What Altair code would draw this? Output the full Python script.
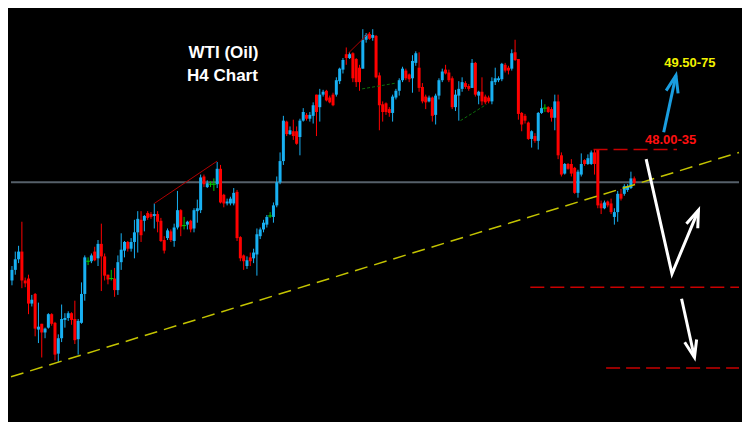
import altair as alt
import pandas as pd
import numpy as np

# ---- WTI H4 candles (price levels) ----
opens = [
    47.17, 47.28, 47.39, 47.47, 47.17, 47.19, 46.93, 47.03, 46.66, 46.72,
    46.63, 46.68, 46.82, 46.73, 46.41, 46.57, 46.76, 46.78, 46.83, 46.77,
    46.56, 46.73, 47.03, 47.37, 47.37, 47.47, 47.40, 47.55, 47.42, 47.23,
    47.19, 47.19, 47.07, 47.36, 47.48, 47.57, 47.50, 47.57, 47.67, 47.80,
    47.79, 47.87, 47.86, 47.84, 47.86, 47.79, 47.59, 47.61, 47.68, 47.58,
    47.72, 47.90, 47.74, 47.75, 47.79, 47.71, 47.89, 47.90, 48.25, 48.14,
    48.17, 48.17, 48.17, 48.33, 48.06, 47.97, 47.97, 47.97, 48.09, 47.62,
    47.43, 47.32, 47.41, 47.40, 47.44, 47.63, 47.70, 47.75, 47.84, 47.83,
    47.95, 48.19, 48.41, 48.82, 48.69, 48.72, 48.72, 48.66, 48.83, 48.89,
    48.85, 48.88, 49.10, 48.97, 49.10, 49.14, 49.07, 49.10, 49.10, 49.24,
    49.36, 49.52, 49.48, 49.53, 49.47, 49.38, 49.37, 49.67, 49.73, 49.69,
    49.71, 49.30, 49.00, 49.01, 48.95, 48.91, 49.07, 49.14, 49.25, 49.35,
    49.31, 49.27, 49.43, 49.38, 49.18, 49.08, 49.03, 49.07, 48.89, 49.09,
    49.25, 49.36, 49.33, 49.27, 48.97, 49.09, 49.16, 49.22, 49.19, 49.17,
    49.43, 49.09, 49.13, 49.08, 49.07, 49.03, 49.23, 49.25, 49.26, 49.41,
    49.38, 49.37, 49.54, 49.47, 48.91, 48.88, 48.81, 48.64, 48.67, 48.62,
    48.91, 48.96, 48.97, 48.95, 48.86, 49.03, 48.47, 48.28, 48.38, 48.38,
    48.34, 48.08, 48.27, 48.42, 48.38, 48.38, 48.50, 48.53, 47.97, 47.92,
    47.99, 47.97, 47.83, 47.88, 48.07, 48.07, 48.11, 48.13, 48.23,
]
highs = [
    47.32, 47.47, 47.53, 47.78, 47.20, 47.23, 47.02, 47.04, 46.94, 46.72,
    46.68, 46.83, 46.83, 46.74, 46.61, 46.92, 46.83, 46.85, 46.84, 46.96,
    46.77, 47.15, 47.43, 47.41, 47.45, 47.52, 47.59, 47.76, 47.45, 47.23,
    47.28, 47.30, 47.43, 47.66, 47.58, 47.58, 47.61, 47.80, 47.89, 47.89,
    47.85, 47.89, 47.88, 47.97, 47.89, 47.82, 47.63, 47.71, 47.70, 47.76,
    48.10, 47.91, 47.83, 47.79, 47.80, 47.92, 48.01, 48.27, 48.27, 48.21,
    48.20, 48.23, 48.40, 48.37, 48.07, 48.02, 48.04, 48.13, 48.11, 47.63,
    47.44, 47.42, 47.46, 47.50, 47.71, 47.72, 47.80, 47.85, 47.88, 47.98,
    48.25, 48.50, 48.88, 48.83, 48.77, 48.84, 48.77, 48.85, 48.96, 48.91,
    48.92, 49.02, 49.10, 49.16, 49.15, 49.15, 49.09, 49.12, 49.28, 49.38,
    49.48, 49.59, 49.54, 49.54, 49.48, 49.41, 49.78, 49.74, 49.75, 49.78,
    49.72, 49.33, 49.03, 49.02, 48.97, 49.10, 49.16, 49.27, 49.39, 49.37,
    49.32, 49.51, 49.55, 49.54, 49.22, 49.10, 49.09, 49.08, 49.11, 49.27,
    49.37, 49.41, 49.36, 49.29, 49.15, 49.24, 49.28, 49.24, 49.21, 49.47,
    49.44, 49.14, 49.28, 49.10, 49.09, 49.28, 49.38, 49.29, 49.43, 49.43,
    49.40, 49.57, 49.67, 49.47, 48.92, 48.90, 48.82, 48.73, 48.70, 48.92,
    49.05, 49.00, 48.98, 48.97, 49.10, 49.10, 48.50, 48.39, 48.39, 48.43,
    48.35, 48.32, 48.49, 48.43, 48.48, 48.52, 48.53, 48.53, 48.00, 48.00,
    48.00, 48.02, 47.92, 48.10, 48.12, 48.17, 48.17, 48.30, 48.25,
]
lows = [
    47.12, 47.23, 47.35, 47.09, 47.10, 46.82, 46.90, 46.59, 46.52, 46.37,
    46.57, 46.67, 46.70, 46.34, 46.32, 46.53, 46.68, 46.75, 46.71, 46.51,
    46.40, 46.72, 46.96, 47.33, 47.35, 47.37, 47.32, 47.06, 47.17, 47.13,
    47.17, 47.00, 47.02, 47.28, 47.41, 47.47, 47.47, 47.40, 47.46, 47.57,
    47.68, 47.80, 47.81, 47.71, 47.67, 47.57, 47.45, 47.59, 47.57, 47.52,
    47.70, 47.63, 47.70, 47.70, 47.67, 47.67, 47.77, 47.87, 48.14, 48.13,
    48.14, 48.10, 48.13, 47.97, 47.93, 47.95, 47.95, 47.95, 47.58, 47.37,
    47.28, 47.29, 47.32, 47.35, 47.22, 47.60, 47.67, 47.72, 47.82, 47.77,
    47.93, 48.17, 48.37, 48.67, 48.68, 48.63, 48.58, 48.47, 48.82, 48.83,
    48.82, 48.80, 48.67, 48.82, 49.08, 49.03, 49.01, 48.98, 49.08, 49.21,
    49.32, 49.41, 49.47, 49.23, 49.18, 49.14, 49.37, 49.64, 49.67, 49.66,
    49.27, 48.73, 48.82, 48.89, 48.87, 48.82, 49.05, 49.09, 49.23, 49.25,
    49.23, 49.12, 49.40, 49.13, 49.01, 48.95, 49.02, 48.82, 48.79, 49.05,
    49.23, 49.31, 49.23, 48.95, 48.93, 48.83, 49.13, 49.16, 49.14, 49.17,
    49.08, 49.00, 48.99, 49.00, 49.01, 49.00, 49.20, 49.23, 49.24, 49.33,
    49.31, 49.35, 49.45, 48.84, 48.72, 48.80, 48.63, 48.55, 48.60, 48.53,
    48.90, 48.92, 48.91, 48.82, 48.73, 48.43, 48.25, 48.27, 48.32, 48.25,
    48.07, 48.03, 48.25, 48.36, 48.37, 48.37, 48.27, 47.92, 47.86, 47.91,
    47.93, 47.86, 47.75, 47.78, 48.00, 48.05, 48.09, 48.12, 48.17,
]
closes = [
    47.28, 47.39, 47.47, 47.17, 47.14, 46.93, 46.97, 46.67, 46.69, 46.63,
    46.67, 46.82, 46.72, 46.40, 46.57, 46.77, 46.78, 46.83, 46.76, 46.55,
    46.75, 47.03, 47.41, 47.37, 47.43, 47.38, 47.55, 47.42, 47.22, 47.18,
    47.19, 47.07, 47.36, 47.49, 47.57, 47.50, 47.57, 47.67, 47.81, 47.64,
    47.84, 47.82, 47.83, 47.86, 47.78, 47.58, 47.48, 47.69, 47.59, 47.72,
    47.90, 47.73, 47.74, 47.78, 47.70, 47.90, 47.92, 48.24, 48.17, 48.18,
    48.17, 48.17, 48.33, 47.98, 47.97, 47.99, 48.02, 48.08, 47.61, 47.40,
    47.37, 47.38, 47.37, 47.46, 47.65, 47.70, 47.77, 47.83, 47.84, 47.95,
    48.19, 48.41, 48.83, 48.69, 48.73, 48.67, 48.59, 48.83, 48.92, 48.85,
    48.89, 48.99, 48.92, 49.10, 49.13, 49.04, 49.02, 48.99, 49.25, 49.37,
    49.46, 49.48, 49.52, 49.27, 49.23, 49.23, 49.67, 49.72, 49.68, 49.72,
    49.28, 48.99, 48.92, 48.92, 48.91, 49.08, 49.14, 49.25, 49.37, 49.27,
    49.26, 49.45, 49.53, 49.17, 49.03, 49.02, 49.07, 48.88, 49.09, 49.25,
    49.34, 49.32, 49.25, 48.97, 49.10, 49.16, 49.23, 49.18, 49.16, 49.43,
    49.10, 49.13, 49.03, 49.02, 49.03, 49.24, 49.27, 49.27, 49.42, 49.35,
    49.35, 49.53, 49.46, 48.90, 48.79, 48.83, 48.64, 48.72, 48.62, 48.91,
    48.96, 48.96, 48.92, 48.86, 49.03, 48.47, 48.27, 48.38, 48.33, 48.28,
    48.08, 48.30, 48.38, 48.38, 48.44, 48.50, 48.38, 47.95, 47.92, 47.98,
    47.95, 47.88, 47.88, 48.07, 48.02, 48.15, 48.15, 48.23, 48.18,
]

n = len(opens)
assert len(highs) == n and len(lows) == n and len(closes) == n, (n, len(highs), len(lows), len(closes))

# ---- annotation values (bar index, price) ----
trend_x = [-0.29, 219.65]
trend_p = [46.17, 48.50]
grey_level = [48.19]
thin_red = {"x1": [43.0, 101.6], "p1": [47.97, 49.53], "x2": [62.0, 107.8], "p2": [48.41, 49.74]}
green_dash = {"x1": [105.8, 135.5], "p1": [49.16, 48.83], "x2": [116.0, 143.4], "p2": [49.22, 49.00]}
level_p = [48.53, 47.10, 46.26]
level_x1 = [175.7, 156.6, 179.5]
level_x2 = [200.9, 219.65, 219.65]
blue_arrow_x = [196.9, 200.6]
blue_arrow_p = [48.71, 49.30]
zig_x = [191.6, 199.4, 207.4]
zig_p = [48.43, 47.24, 47.90]
down_x = [202.3, 206.2]
down_p = [46.98, 46.37]
titles = ["WTI (Oil)", "H4 Chart"]
title_x = [63.9, 63.6]
title_p = [49.53, 49.29]
target_up = "49.50-75"
target_up_pos = [204.8, 49.43]
target_mid = "48.00-35"
target_mid_pos = [199.0, 48.63]

X_DOMAIN = [-0.29, 219.65]
P_DOMAIN = [45.70, 50.00]
xs = alt.Scale(domain=X_DOMAIN, nice=False, zero=False)
ys = alt.Scale(domain=P_DOMAIN, nice=False, zero=False)

o = np.array(opens); c = np.array(closes)
candles = pd.DataFrame({
    "i": np.arange(n), "open": opens, "high": highs, "low": lows, "close": closes,
    "dir": np.where(c > o, "up", np.where(c < o, "down", "doji")),
})
cscale = alt.Scale(domain=["up", "down", "doji"], range=["#18b0f2", "#ff0000", "#00c800"])
col = alt.Color("dir:N", scale=cscale, legend=None)
X = lambda f: alt.X(f, scale=xs, axis=None)
Y = lambda f: alt.Y(f, scale=ys, axis=None)

base = alt.Chart(candles)
wick = base.mark_rule(strokeWidth=1).encode(x=X("i:Q"), y=Y("low:Q"), y2="high:Q", color=col)
body = base.transform_filter("datum.dir != 'doji'").mark_rule(strokeWidth=3, strokeCap="butt").encode(
    x=X("i:Q"), y=Y("open:Q"), y2="close:Q", color=col)
doji = base.transform_filter("datum.dir == 'doji'").transform_calculate(
    xl="datum.i - 0.7", xr="datum.i + 0.7").mark_rule(strokeWidth=1).encode(
    x=X("xl:Q"), x2="xr:Q", y=Y("open:Q"), color=col)

grey = alt.Chart(pd.DataFrame({"p": grey_level})).mark_rule(color="#56606a", strokeWidth=2).encode(y=Y("p:Q"))
trend = alt.Chart(pd.DataFrame({"x": trend_x, "p": trend_p})).mark_line(
    color="#c4c400", strokeWidth=1.5, strokeDash=[13, 7]).encode(x=X("x:Q"), y=Y("p:Q"))
thin = alt.Chart(pd.DataFrame(thin_red)).mark_rule(color="#b00000", strokeWidth=1).encode(
    x=X("x1:Q"), x2="x2:Q", y=Y("p1:Q"), y2="p2:Q")
gdash = alt.Chart(pd.DataFrame(green_dash)).mark_rule(color="#0b6e0b", strokeWidth=1, strokeDash=[3, 2]).encode(
    x=X("x1:Q"), x2="x2:Q", y=Y("p1:Q"), y2="p2:Q")
levels = alt.Chart(pd.DataFrame({"p": level_p, "x1": level_x1, "x2": level_x2})).mark_rule(
    color="#c80000", strokeWidth=1.5, strokeDash=[14, 6]).encode(x=X("x1:Q"), x2="x2:Q", y=Y("p:Q"))

blue_line = alt.Chart(pd.DataFrame({"x": blue_arrow_x, "p": blue_arrow_p, "k": [0, 1]})).mark_line(
    color="#1a9ee0", strokeWidth=3).encode(x=X("x:Q"), y=Y("p:Q"), order="k:Q")
zig_line = alt.Chart(pd.DataFrame({"x": zig_x, "p": zig_p, "k": [0, 1, 2]})).mark_line(
    color="white", strokeWidth=3, strokeJoin="miter").encode(x=X("x:Q"), y=Y("p:Q"), order="k:Q")
down_line = alt.Chart(pd.DataFrame({"x": down_x, "p": down_p, "k": [0, 1]})).mark_line(
    color="white", strokeWidth=3).encode(x=X("x:Q"), y=Y("p:Q"), order="k:Q")

V = "M-0.36,1L0,0L0.36,1"
blue_head = alt.Chart(pd.DataFrame({"x": [blue_arrow_x[-1]], "p": [blue_arrow_p[-1]], "a": [13]})).mark_point(
    shape=V, filled=False, strokeWidth=3, size=1156, opacity=1, color="#1a9ee0").encode(
    x=X("x:Q"), y=Y("p:Q"), angle=alt.Angle("a:Q", scale=None))
white_head = alt.Chart(pd.DataFrame({"x": [zig_x[-1], down_x[-1]], "p": [zig_p[-1], down_p[-1]], "a": [22, 167]})).mark_point(
    shape=V, filled=False, strokeWidth=3, size=1156, opacity=1, color="white").encode(
    x=X("x:Q"), y=Y("p:Q"), angle=alt.Angle("a:Q", scale=None))

title_txt = alt.Chart(pd.DataFrame({"t": titles, "x": title_x, "p": title_p})).mark_text(
    font="Liberation Sans", fontWeight="bold", fontSize=17, color="white", align="center", baseline="middle").encode(
    x=X("x:Q"), y=Y("p:Q"), text="t:N")
up_txt = alt.Chart(pd.DataFrame({"t": [target_up], "x": [target_up_pos[0]], "p": [target_up_pos[1]]})).mark_text(
    font="Liberation Sans", fontWeight="bold", fontSize=13, color="#f2f200", align="center", baseline="middle").encode(
    x=X("x:Q"), y=Y("p:Q"), text="t:N")
mid_txt = alt.Chart(pd.DataFrame({"t": [target_mid], "x": [target_mid_pos[0]], "p": [target_mid_pos[1]]})).mark_text(
    font="Liberation Sans", fontWeight="bold", fontSize=13, color="#ff1010", align="center", baseline="middle").encode(
    x=X("x:Q"), y=Y("p:Q"), text="t:N")

chart = alt.layer(
    grey, wick, body, doji, trend, thin, gdash, levels,
    blue_line, zig_line, down_line, blue_head, white_head,
    title_txt, up_txt, mid_txt,
).properties(
    width=734, height=414,
    autosize=alt.AutoSizeParams(type="fit", contains="padding"),
    padding=0, background="black",
).configure_view(strokeWidth=0)

chart.save("out.html", embed_options={"renderer": "svg", "actions": False})
